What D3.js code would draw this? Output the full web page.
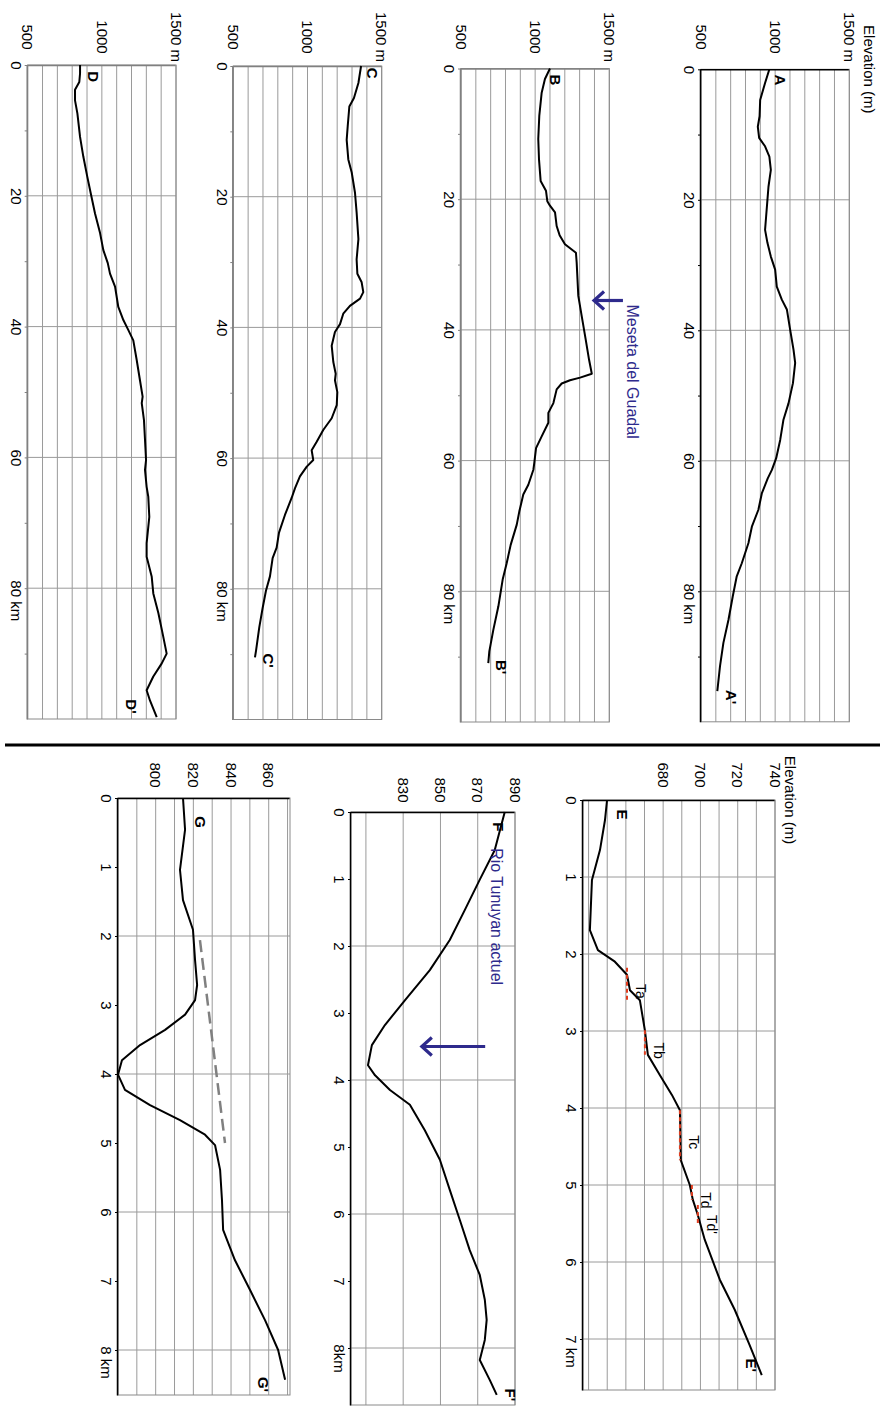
<!DOCTYPE html>
<html><head><meta charset="utf-8">
<script src="https://cdn.jsdelivr.net/npm/d3@7"></script>
<style>
body{margin:0;background:#fff}
svg{display:block}
text{font-family:"Liberation Sans",Arial,sans-serif}
</style>
</head><body>
<script>
// ---------------- DATA (distance km, elevation m) ----------------
const aKm=[0,2.1,4.7,7.2,8.8,10.5,11.8,13.4,15.4,18,20,22.6,24.6,26.6,28.7,30.7,33.3,35.3,36.8,39.9,43,45,48.1,51.2,53.7,56.8,59.6,61.4,62.7,65,67.5,70.1,72.6,75.7,77.7,80.8,84.4,87.9,91.5,95.3];
const aM=[961,932,899,895,883,892,932,961,971,955,948,939,932,948,971,1000,1011,1045,1079,1101,1124,1135,1120,1090,1056,1034,1007,978,950,910,887,843,820,775,741,714,685,651,628,610];
const bKm=[0,1.6,3.7,7.2,10.8,13.9,17.2,18.7,20.3,21,22,24.1,25.5,26.9,28.2,29.7,34.8,37.9,41.5,44.5,46.7,47.3,47.7,48.2,49.1,51.2,52.7,54.2,56.3,58.1,60.4,61.4,63.7,65.2,67.8,69.8,72.9,75.7,78.2,82.3,85.9,89.2,91];
const bM=[1100,1066,1044,1028,1021,1026,1037,1073,1082,1100,1134,1145,1165,1201,1275,1280,1291,1314,1341,1363,1382,1303,1235,1179,1145,1123,1089,1089,1044,1006,994,988,954,920,893,876,835,808,781,752,718,691,684];
const cKm=[0,2.6,4.9,6.2,9.2,11.3,14.3,16.3,19.4,22.4,26.5,29.6,31.8,33.1,34.6,35.6,36.7,37.9,39.5,40.7,42.8,45.3,47.1,48.1,49.9,51.9,53.9,55.7,57.5,58.8,60.3,61.3,62.8,64.6,66.1,68.7,71.4,73.7,75.3,78.1,80.3,82.9,85.9,89.5,90.5];
const cM=[1361,1343,1313,1282,1271,1264,1275,1298,1320,1331,1343,1331,1336,1365,1376,1354,1286,1241,1219,1185,1163,1174,1190,1185,1201,1197,1163,1106,1062,1028,1039,995,949,916,893,848,808,792,765,747,720,698,675,653,646];
const dKm=[0,1.3,2.6,3.8,5.4,7.4,11,14,17.1,19.6,22.7,25.7,28.3,30.3,31.9,33.9,37,39,40.5,42.1,45.1,48.2,50.7,51.7,54.3,57.3,60.4,61.9,64.5,66,69.1,73.1,75.2,78.2,80.8,83.8,87.4,90,91.5,93.5,95.6,97.2,99.7];
const dM=[853,853,848,819,819,835,853,875,902,925,954,988,1010,1040,1055,1089,1111,1145,1178,1212,1235,1257,1275,1269,1284,1291,1298,1291,1302,1313,1320,1302,1302,1336,1347,1381,1414,1437,1404,1347,1302,1325,1370];
const eKm=[0,0.26,0.65,1.04,1.69,1.95,2.1,2.27,2.47,2.6,2.99,3.31,3.57,3.83,4.03,4.68,5,5.19,5.39,5.71,6.23,6.62,7.08,7.47];
const eM=[649.9,648.8,646.1,641.8,640.7,645,654.1,660.6,662.2,667.5,670.2,671.8,678.2,684.7,689,689.5,694.3,695.9,698.6,702.3,710.4,718.4,726.4,732.9];
const fKm=[0,0.57,1.01,1.46,1.91,2.36,2.81,3.18,3.48,3.78,3.93,4.15,4.37,4.75,5.19,5.64,6.09,6.54,6.91,7.28,7.58,7.88,8.18,8.48,8.7];
const fM=[884.5,879.1,871.1,863.1,855,844.3,830.9,820.2,813.2,811.1,814.9,822.9,833.6,841.6,849.7,855,860.4,865.7,871.1,873.8,874.8,873.8,871.1,876.5,880.2];
const gKm=[0,0.46,1.04,1.48,1.91,2.35,2.71,2.93,3.14,3.36,3.58,3.8,4.01,4.23,4.45,4.67,4.88,5.03,5.39,5.83,6.26,6.7,7.13,7.57,8,8.43];
const gM=[814.5,815.6,812.9,814.5,819.8,820.9,822,820.9,815.6,805,791.7,782.1,780,783.7,797,812.9,826.2,831.5,834.2,835.2,835.8,842.1,850.1,858.1,865,868.7];

// terraces on profile E
const terrName=["Ta","Tb","Tc","Td","Td'"];
const terrKm0=[2.18,2.99,4.03,5.0,5.26];
const terrKm1=[2.6,3.31,4.68,5.19,5.52];
const terrM=[660.6,670.2,689,695.4,698.6];
// dashed trend on G
const gTrendKm=[2.06,5.0];
const gTrendM=[823.5,836.8];

// tick labels
const bigDistLabels=[0,20,40,60,80];
const bigElevLabels=[500,1000,1500];
const eElevLabels=[680,700,720,740];
const fElevLabels=[830,850,870,890];
const gElevLabels=[800,820,840,860];
const eDistLabels=[0,1,2,3,4,5,6,7];
const fgDistLabels=[0,1,2,3,4,5,6,7,8];

// ---------------- DRAWING ----------------
const W=883,H=1414;
const svg=d3.select("body").append("svg").attr("width",W).attr("height",H);
// whole figure is rotated 90deg clockwise: frame (u,v) -> screen (W-v, u)
const root=svg.append("g").attr("transform",`translate(${W},0) rotate(90)`);
const V=x=>W-x;
const GRID="#9a9a9a";

function panel(c){
  const g=root.append("g");
  const xs=d3.scaleLinear().domain([0,c.dmax]).range([c.top,c.bottom]);
  const ys=d3.scaleLinear().domain([c.emin,c.emax]).range([V(c.xLow),V(c.xHigh)]);
  g.append("g").selectAll("line").data(c.eGrid).join("line")
    .attr("x1",c.top).attr("x2",c.bottom).attr("y1",d=>ys(d)).attr("y2",d=>ys(d))
    .attr("stroke",GRID).attr("stroke-width",1);
  g.append("g").selectAll("line").data(c.dGrid).join("line")
    .attr("x1",d=>xs(d)).attr("x2",d=>xs(d)).attr("y1",ys(c.emin)).attr("y2",ys(c.emax))
    .attr("stroke",GRID).attr("stroke-width",1);
  g.append("rect").attr("x",c.top).attr("y",ys(c.emax)).attr("width",c.bottom-c.top)
    .attr("height",ys(c.emin)-ys(c.emax)).attr("fill","none").attr("stroke","#8a8a8a").attr("stroke-width",1);
  const ax=d3.axisBottom(xs).tickValues(c.dTicks).tickSize(3).tickSizeOuter(0)
    .tickFormat(d=>c.dLabels.includes(d)?d:"");
  const axG=g.append("g").attr("transform",`translate(0,${ys(c.emin)})`).call(ax);
  axG.select(".domain").attr("stroke",c.axisColor).attr("stroke-width",1.5);
  axG.selectAll(".tick line").attr("stroke",c.axisColor);
  axG.selectAll("text").attr("font-size",15).attr("fill","#000").attr("font-family",null).attr("y",6);
  const lastLab=c.dLabels[c.dLabels.length-1];
  axG.selectAll(".tick text").filter(d=>d===lastLab).each(function(){
    const w=this.getComputedTextLength();
    d3.select(this).attr("text-anchor","start").attr("x",-w/2).append("tspan").text(c.dUnit);
  });
  const ay=d3.axisLeft(ys).tickValues(c.eLabels).tickSize(0).tickFormat(d=>d===c.emaxLabel?d+c.eUnit:d);
  const ayG=g.append("g").attr("transform",`translate(${c.top},0)`).call(ay);
  ayG.select(".domain").attr("stroke",c.axisColor).attr("stroke-width",1.5);
  ayG.selectAll("text").attr("font-size",15).attr("fill","#000").attr("font-family",null)
    .attr("text-anchor","middle").attr("x",c.labU-c.top);
  const pts=d3.zip(c.km,c.m);
  g.append("path").datum(pts).attr("fill","none").attr("stroke","#000").attr("stroke-width",2)
    .attr("stroke-linejoin","round").attr("d",d3.line().x(d=>xs(d[0])).y(d=>ys(d[1])));
  c.ends.forEach(e=>{
    g.append("text").attr("x",xs(e[1])).attr("y",ys(e[2])).attr("dy","0.35em")
      .attr("text-anchor","middle").attr("font-size",15).attr("font-weight","bold").text(e[0]);
  });
  return {g,xs,ys};
}

const pA=panel({km:aKm,m:aM,xLow:701,xHigh:849.3,top:69.3,bottom:721.8,dmax:100,emin:500,emax:1500,
  eGrid:d3.range(500,1501,100),dGrid:[20,40,60,80],dTicks:d3.range(0,100,10),dLabels:bigDistLabels,dUnit:" km",
  eLabels:bigElevLabels,emaxLabel:1500,eUnit:" m",labU:37,axisColor:"#000",
  ends:[["A",1.64,1034],["A'",96.2,707]]});
pA.g.append("text").attr("x",pA.xs(0)).attr("y",V(864)).attr("text-anchor","middle").attr("font-size",15).text("Elevation (m)");

const pB=panel({km:bKm,m:bM,xLow:461,xHigh:609.3,top:68.5,bottom:722,dmax:100,emin:500,emax:1500,
  eGrid:d3.range(500,1501,100),dGrid:[20,40,60,80],dTicks:d3.range(0,100,10),dLabels:bigDistLabels,dUnit:" km",
  eLabels:bigElevLabels,emaxLabel:1500,eUnit:" m",labU:37,axisColor:"#808080",
  ends:[["B",1.76,1134],["B'",91.6,774]]});
{
  const {g,xs,ys}=pB; const c="#2e2a8c";
  const d0=35.5, tip=ys(1397), tail=ys(1592);
  g.append("line").attr("x1",xs(d0)).attr("x2",xs(d0)).attr("y1",tail).attr("y2",tip-2).attr("stroke",c).attr("stroke-width",3.2);
  g.append("path").attr("d",`M${xs(d0)-9},${tip-10}L${xs(d0)},${tip}L${xs(d0)+9},${tip-10}`)
    .attr("fill","none").attr("stroke",c).attr("stroke-width",3.2);
  g.append("text").attr("x",xs(36.1)).attr("y",ys(1660)).attr("dy","0.35em").attr("font-size",16).attr("fill",c).text("Meseta del Guadal");
}

panel({km:cKm,m:cM,xLow:233.3,xHigh:381.7,top:66,bottom:719.5,dmax:100,emin:500,emax:1500,
  eGrid:d3.range(500,1501,100),dGrid:[20,40,60,80],dTicks:d3.range(0,100,10),dLabels:bigDistLabels,dUnit:" km",
  eLabels:bigElevLabels,emaxLabel:1500,eUnit:" m",labU:37,axisColor:"#808080",
  ends:[["C",1.11,1433],["C'",91,736]]});
panel({km:dKm,m:dM,xLow:27.7,xHigh:176,top:65,bottom:719,dmax:100,emin:500,emax:1500,
  eGrid:d3.range(500,1501,100),dGrid:[20,40,60,80],dTicks:d3.range(0,100,10),dLabels:bigDistLabels,dUnit:" km",
  eLabels:bigElevLabels,emaxLabel:1500,eUnit:" m",labU:37,axisColor:"#808080",
  ends:[["D",1.79,942],["D'",98.1,1201]]});

root.append("line").attr("x1",745).attr("x2",745).attr("y1",V(880)).attr("y2",V(5)).attr("stroke","#000").attr("stroke-width",3);

const pE=panel({km:eKm,m:eM,xLow:583,xHigh:775,top:800,bottom:1390,dmax:(1390-800)/77,emin:637,emax:740,
  eGrid:d3.range(640,741,10),dGrid:[1,2,3,4,5,6,7],dTicks:eDistLabels,dLabels:eDistLabels,dUnit:" km",
  eLabels:eElevLabels,emaxLabel:-1,eUnit:"",labU:775,axisColor:"#000",
  ends:[["E",0.19,657.9],["E'",7.34,727.5]]});
pE.g.append("text").attr("x",pE.xs(0)).attr("y",V(785)).attr("text-anchor","middle").attr("font-size",15).text("Elevation (m)");
{
  const {g,xs,ys}=pE;
  terrName.forEach((n,i)=>{
    g.append("line").attr("x1",xs(terrKm0[i])).attr("x2",xs(terrKm1[i])).attr("y1",ys(terrM[i])).attr("y2",ys(terrM[i]))
      .attr("stroke","#e03c1e").attr("stroke-width",2).attr("stroke-dasharray","4,3");
    g.append("text").attr("x",xs((terrKm0[i]+terrKm1[i])/2)).attr("y",ys(terrM[i]+5)).attr("font-size",14).text(n);
  });
}
const pF=panel({km:fKm,m:fM,xLow:351,xHigh:515,top:812,bottom:1405,dmax:(1405-812)/67,emin:802,emax:890,
  eGrid:[810,830,850,870,890],dGrid:[2,4,6,8],dTicks:fgDistLabels,dLabels:fgDistLabels,dUnit:"km",
  eLabels:fElevLabels,emaxLabel:-1,eUnit:"",labU:790,axisColor:"#000",
  ends:[["F",0.22,880.8],["F'",8.7,887.2]]});
{
  const {g,xs,ys}=pF; const c="#2e2a8c";
  const d0=3.5, tip=ys(840), tail=ys(874);
  g.append("line").attr("x1",xs(d0)).attr("x2",xs(d0)).attr("y1",tail).attr("y2",tip-2).attr("stroke",c).attr("stroke-width",3.2);
  g.append("path").attr("d",`M${xs(d0)-9},${tip-10}L${xs(d0)},${tip}L${xs(d0)+9},${tip-10}`)
    .attr("fill","none").attr("stroke",c).attr("stroke-width",3.2);
  g.append("text").attr("x",xs(0.54)).attr("y",ys(880)).attr("dy","0.35em").attr("font-size",16).attr("fill",c).text("Rio Tunuyan actuel");
}
const pG=panel({km:gKm,m:gM,xLow:118,xHigh:290,top:798,bottom:1395,dmax:(1395-798)/69,emin:780,emax:871.3,
  eGrid:d3.range(780,871,10),dGrid:[2,4,6,8],dTicks:fgDistLabels,dLabels:fgDistLabels,dUnit:" km",
  eLabels:gElevLabels,emaxLabel:-1,eUnit:"",labU:775,axisColor:"#000",
  ends:[["G",0.35,823.5],["G'",8.5,857]]});
pG.g.append("line").attr("x1",pG.xs(gTrendKm[0])).attr("x2",pG.xs(gTrendKm[1])).attr("y1",pG.ys(gTrendM[0])).attr("y2",pG.ys(gTrendM[1]))
  .attr("stroke","#808080").attr("stroke-width",2.5).attr("stroke-dasharray","12,6");
</script>
</body></html>
